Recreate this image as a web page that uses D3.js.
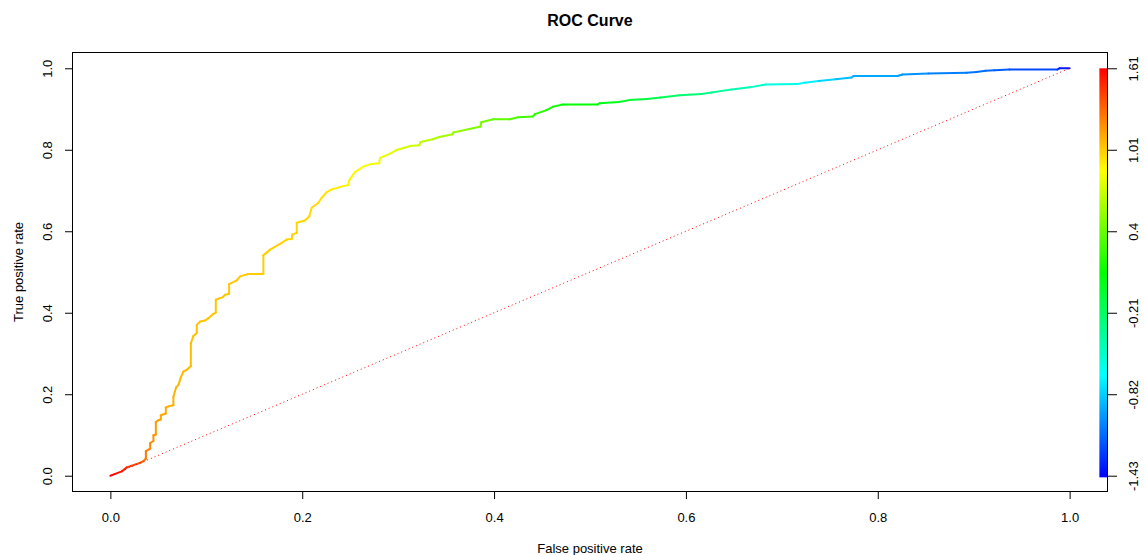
<!DOCTYPE html>
<html>
<head>
<meta charset="utf-8">
<script src="https://cdn.jsdelivr.net/npm/d3@7"></script>
<style>
  body { margin: 0; background: #fff; }
  svg text { font-family: "Liberation Sans", Arial, Helvetica, sans-serif; fill: #000; }
</style>
</head>
<body>
<svg id="chart" width="1145" height="555"></svg>
<script>
// ROC curve vertices: false positive rate, true positive rate and the cutoff at each vertex
const fpr = [0, 0.005, 0.012, 0.0172, 0.0217, 0.0276, 0.0321, 0.0345, 0.037, 0.037,
  0.0415, 0.0415, 0.0449, 0.0449, 0.0474, 0.0474, 0.0501, 0.0526, 0.0526, 0.0578,
  0.0578, 0.0613, 0.0657, 0.0657, 0.0685, 0.0709, 0.0734, 0.0761, 0.0803, 0.0839,
  0.0839, 0.0866, 0.0901, 0.0901, 0.0935, 0.0988, 0.1022, 0.1074, 0.1099, 0.1099,
  0.1172, 0.1196, 0.1238, 0.1238, 0.1318, 0.1352, 0.1439, 0.1595, 0.1595, 0.1665,
  0.1769, 0.1839, 0.1891, 0.1897, 0.1943, 0.1943, 0.2029, 0.2074, 0.2099, 0.2168,
  0.2203, 0.2255, 0.2307, 0.2428, 0.248, 0.2491, 0.255, 0.2636, 0.2706, 0.2803,
  0.281, 0.2915, 0.2977, 0.3071, 0.3123, 0.322, 0.3234, 0.3359, 0.3428, 0.3568,
  0.3574, 0.373, 0.3859, 0.3866, 0.3991, 0.4165, 0.4251, 0.4407, 0.4425, 0.4547,
  0.4616, 0.4717, 0.5081, 0.5102, 0.53, 0.5409, 0.5592, 0.5737, 0.5935, 0.6165,
  0.627, 0.6373, 0.6477, 0.6665, 0.6831, 0.7165, 0.7238, 0.7384, 0.7561, 0.7727,
  0.7748, 0.8206, 0.8258, 0.8529, 0.8925, 0.9029, 0.9123, 0.9217, 0.9373, 0.9873,
  0.9894, 1.0];

const tpr = [0, 0.0044, 0.0106, 0.0204, 0.0241, 0.0286, 0.0328, 0.036, 0.0419, 0.0606,
  0.0665, 0.0803, 0.0852, 0.0993, 0.101, 0.132, 0.1362, 0.1379, 0.1485, 0.1527,
  0.1675, 0.1707, 0.1732, 0.1936, 0.2167, 0.2224, 0.2414, 0.2552, 0.2611, 0.2692,
  0.3251, 0.3431, 0.3505, 0.3702, 0.3783, 0.3808, 0.3867, 0.3973, 0.4005, 0.4318,
  0.4384, 0.4441, 0.4466, 0.4704, 0.4793, 0.4892, 0.4951, 0.4951, 0.5409, 0.5549,
  0.569, 0.5796, 0.5813, 0.5919, 0.5961, 0.6207, 0.6264, 0.6369, 0.6576, 0.67,
  0.6823, 0.6961, 0.7027, 0.7108, 0.7133, 0.7256, 0.7453, 0.7586, 0.7643, 0.7667,
  0.7798, 0.7906, 0.7988, 0.8054, 0.8094, 0.8111, 0.8192, 0.8259, 0.8315, 0.8382,
  0.8424, 0.8505, 0.8571, 0.8677, 0.875, 0.875, 0.88, 0.8818, 0.8874, 0.8973,
  0.9059, 0.9113, 0.9113, 0.9145, 0.9175, 0.9219, 0.9244, 0.9286, 0.9337, 0.9372,
  0.9404, 0.9446, 0.9478, 0.9532, 0.9601, 0.9613, 0.9648, 0.9687, 0.9732, 0.9773,
  0.981, 0.981, 0.9847, 0.9872, 0.9889, 0.9909, 0.9938, 0.9951, 0.997, 0.997,
  1.0, 1.0];

const cutoff = [1.61, 1.58, 1.53, 1.48, 1.44, 1.38, 1.33, 1.30, 1.27, 1.26,
  1.22, 1.21, 1.19, 1.18, 1.16, 1.15, 1.14, 1.13, 1.12, 1.11,
  1.10, 1.09, 1.08, 1.08, 1.07, 1.07, 1.06, 1.06, 1.05, 1.05,
  1.04, 1.04, 1.04, 1.03, 1.03, 1.03, 1.03, 1.02, 1.02, 1.02,
  1.02, 1.02, 1.01, 1.01, 1.01, 1.01, 1.00, 1.00, 1.00, 0.99,
  0.99, 0.98, 0.98, 0.98, 0.98, 0.97, 0.97, 0.96, 0.96, 0.95,
  0.94, 0.93, 0.92, 0.89, 0.88, 0.88, 0.87, 0.85, 0.84, 0.81,
  0.81, 0.78, 0.76, 0.73, 0.71, 0.68, 0.67, 0.63, 0.60, 0.55,
  0.55, 0.50, 0.45, 0.45, 0.40, 0.34, 0.31, 0.24, 0.23, 0.18,
  0.15, 0.11, 0.06, 0.05, 0.00, -0.04, -0.10, -0.15, -0.21, -0.29,
  -0.33, -0.37, -0.41, -0.47, -0.53, -0.65, -0.68, -0.75, -0.84, -0.88,
  -0.89, -0.96, -0.97, -1.02, -1.08, -1.09, -1.11, -1.13, -1.16, -1.26,
  -1.30, -1.43];

// Axis ticks
const rateTicks = [0, 0.2, 0.4, 0.6, 0.8, 1.0];
const rateTickLabels = ["0.0", "0.2", "0.4", "0.6", "0.8", "1.0"];
const cutoffTickLabels = ["-1.43", "-0.82", "-0.21", "0.4", "1.01", "1.61"];
const cutoffRange = [-1.43, 1.61];

const svg = d3.select("#chart");
const plotLeft = 72, plotRight = 1108, plotTop = 52, plotBottom = 492;

const x = d3.scaleLinear().domain([-0.04, 1.04]).range([plotLeft, plotRight]);
const y = d3.scaleLinear().domain([-0.04, 1.04]).range([plotBottom, plotTop]);

// Rainbow colour key: red at the highest cutoff, blue at the lowest
const hue = d3.scaleLinear().domain([cutoffRange[1], cutoffRange[0]]).range([0, 240]);
const cutoffColor = c => d3.hsl(hue(c), 1, 0.5).formatHex();

// Title and axis titles
svg.append("text")
  .attr("x", (plotLeft + plotRight) / 2).attr("y", 20)
  .attr("text-anchor", "middle").attr("dominant-baseline", "central")
  .style("font-size", "16px").style("font-weight", "bold")
  .text("ROC Curve");

svg.append("text")
  .attr("x", (plotLeft + plotRight) / 2).attr("y", 548)
  .attr("text-anchor", "middle").attr("dominant-baseline", "central")
  .style("font-size", "13px")
  .text("False positive rate");

svg.append("text")
  .attr("transform", `translate(18,${(plotTop + plotBottom) / 2}) rotate(-90)`)
  .attr("text-anchor", "middle").attr("dominant-baseline", "central")
  .style("font-size", "13px")
  .text("True positive rate");

// Bottom axis
const gx = svg.append("g").attr("transform", `translate(0,${plotBottom})`)
  .call(d3.axisBottom(x).tickValues(rateTicks)
    .tickFormat((d, i) => rateTickLabels[i]).tickSize(7));
gx.select(".domain").remove();
gx.selectAll(".tick text").attr("y", 25).attr("dy", null)
  .attr("dominant-baseline", "central").style("font-size", "13px");

// Left axis with labels turned parallel to the axis
const gy = svg.append("g").attr("transform", `translate(${plotLeft},0)`)
  .call(d3.axisLeft(y).tickValues(rateTicks)
    .tickFormat((d, i) => rateTickLabels[i]).tickSize(7));
gy.select(".domain").remove();
gy.selectAll(".tick text")
  .attr("x", null).attr("dy", null)
  .attr("text-anchor", "middle").attr("dominant-baseline", "central")
  .attr("transform", "translate(-25,0) rotate(-90)")
  .style("font-size", "13px");

// Right axis carrying the cutoff values of the colour key
const gr = svg.append("g").attr("transform", `translate(${plotRight},0)`)
  .call(d3.axisRight(y).tickValues(rateTicks)
    .tickFormat((d, i) => cutoffTickLabels[i]).tickSize(9));
gr.select(".domain").remove();
gr.selectAll(".tick text")
  .attr("x", null).attr("dy", null)
  .attr("text-anchor", "middle").attr("dominant-baseline", "central")
  .attr("transform", "translate(25,0) rotate(-90)")
  .style("font-size", "13px");

svg.selectAll(".tick line").attr("stroke", "#000");

// Colour key bar
const defs = svg.append("defs");
const grad = defs.append("linearGradient").attr("id", "keyGradient")
  .attr("x1", 0).attr("y1", 0).attr("x2", 0).attr("y2", 1);
d3.range(0, 1.0001, 0.05).forEach(t => {
  grad.append("stop").attr("offset", t)
    .attr("stop-color", cutoffColor(cutoffRange[1] - t * (cutoffRange[1] - cutoffRange[0])));
});
svg.append("rect")
  .attr("x", x(1.031)).attr("y", y(1.0))
  .attr("width", x(1.04) - x(1.031)).attr("height", y(-0.004) - y(1.0))
  .attr("fill", "url(#keyGradient)");

// Colourised ROC curve, one segment per pair of vertices
const segs = d3.range(fpr.length - 1);
svg.append("g").selectAll("line").data(segs).join("line")
  .attr("x1", i => x(fpr[i])).attr("y1", i => y(tpr[i]))
  .attr("x2", i => x(fpr[i + 1])).attr("y2", i => y(tpr[i + 1]))
  .attr("stroke", i => cutoffColor((cutoff[i] + cutoff[i + 1]) / 2))
  .attr("stroke-width", 2)
  .attr("stroke-linecap", "round");

// Chance diagonal
svg.append("line")
  .attr("x1", x(0)).attr("y1", y(0)).attr("x2", x(1)).attr("y2", y(1))
  .attr("stroke", "#ff0000").attr("stroke-width", 1)
  .attr("stroke-dasharray", "1,3");

// Plot frame
svg.append("rect")
  .attr("x", plotLeft + 0.5).attr("y", plotTop + 0.5)
  .attr("width", plotRight - plotLeft - 1).attr("height", plotBottom - plotTop - 1)
  .attr("fill", "none").attr("stroke", "#000").attr("stroke-width", 1);
</script>
</body>
</html>
